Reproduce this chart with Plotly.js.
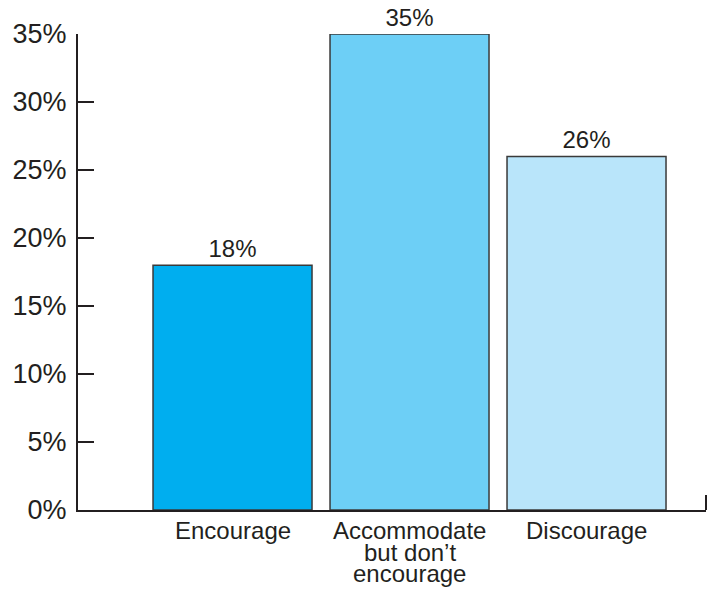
<!DOCTYPE html>
<html>
<head>
<meta charset="utf-8">
<script src="https://cdn.plot.ly/plotly-3.0.1.min.js"></script>
<style>html,body{margin:0;padding:0;background:#fff;}#chart{width:713px;height:590px;}</style>
</head>
<body>
<div id="chart"></div>
<script>
const categories = ["Encourage", "Accommodate<br>but don’t<br>encourage", "Discourage"];
const values = [18, 35, 26];
const valueLabels = ["18%", "35%", "26%"];
const barColors = ["#00AEEF", "#6DCFF6", "#B9E5FA"];
const yTickVals = [0, 5, 10, 15, 20, 25, 30, 35];
const yTickText = ["0%", "5%", "10%", "15%", "20%", "25%", "30%", "35%"];

const FONT = "Liberation Sans, Arial, Helvetica, sans-serif";
const axisColor = "#231f20";

const trace = {
  type: "bar",
  x: categories,
  y: values,
  text: valueLabels,
  textposition: "outside",
  cliponaxis: false,
  textfont: {family: FONT, size: 24, color: axisColor},
  marker: {color: barColors, line: {color: "#3a3a3a", width: 1.5}},
  hoverinfo: "skip"
};

// category labels as stacked annotation lines (tight line spacing as in reference)
const LINE_STEP = 21.5;
const annotations = [];
categories.forEach((cat, ci) => {
  cat.split("<br>").forEach((line, li) => {
    annotations.push({
      x: cat, y: 0, xref: "x", yref: "y",
      text: line, showarrow: false,
      xanchor: "center", yanchor: "top",
      yshift: -5 - li * LINE_STEP,
      font: {family: FONT, size: 24, color: axisColor}
    });
  });
});

const layout = {
  width: 713, height: 590,
  margin: {l: 78, r: 7, t: 34, b: 80},
  paper_bgcolor: "#fff", plot_bgcolor: "#fff",
  showlegend: false,
  bargap: 0.1017,
  font: {family: FONT, color: axisColor},
  xaxis: {
    type: "category",
    range: [-0.873, 2.675],
    showticklabels: false,
    showline: true, linecolor: axisColor, linewidth: 2,
    ticks: "", showgrid: false, zeroline: false, fixedrange: true
  },
  yaxis: {
    range: [0, 35],
    tickvals: yTickVals, ticktext: yTickText,
    ticks: "inside", ticklen: 16, tickwidth: 2, tickcolor: axisColor,
    showline: true, linecolor: axisColor, linewidth: 2,
    showgrid: false, zeroline: false,
    tickfont: {family: FONT, size: 27, color: axisColor},
    ticklabelstandoff: 4,
    fixedrange: true
  },
  shapes: [{
    type: "line", xref: "paper", yref: "y",
    x0: 1, x1: 1, y0: 0, y1: 1.1,
    line: {color: axisColor, width: 2}
  }],
  annotations: annotations
};

Plotly.newPlot("chart", [trace], layout, {displayModeBar: false, staticPlot: true});
</script>
</body>
</html>
